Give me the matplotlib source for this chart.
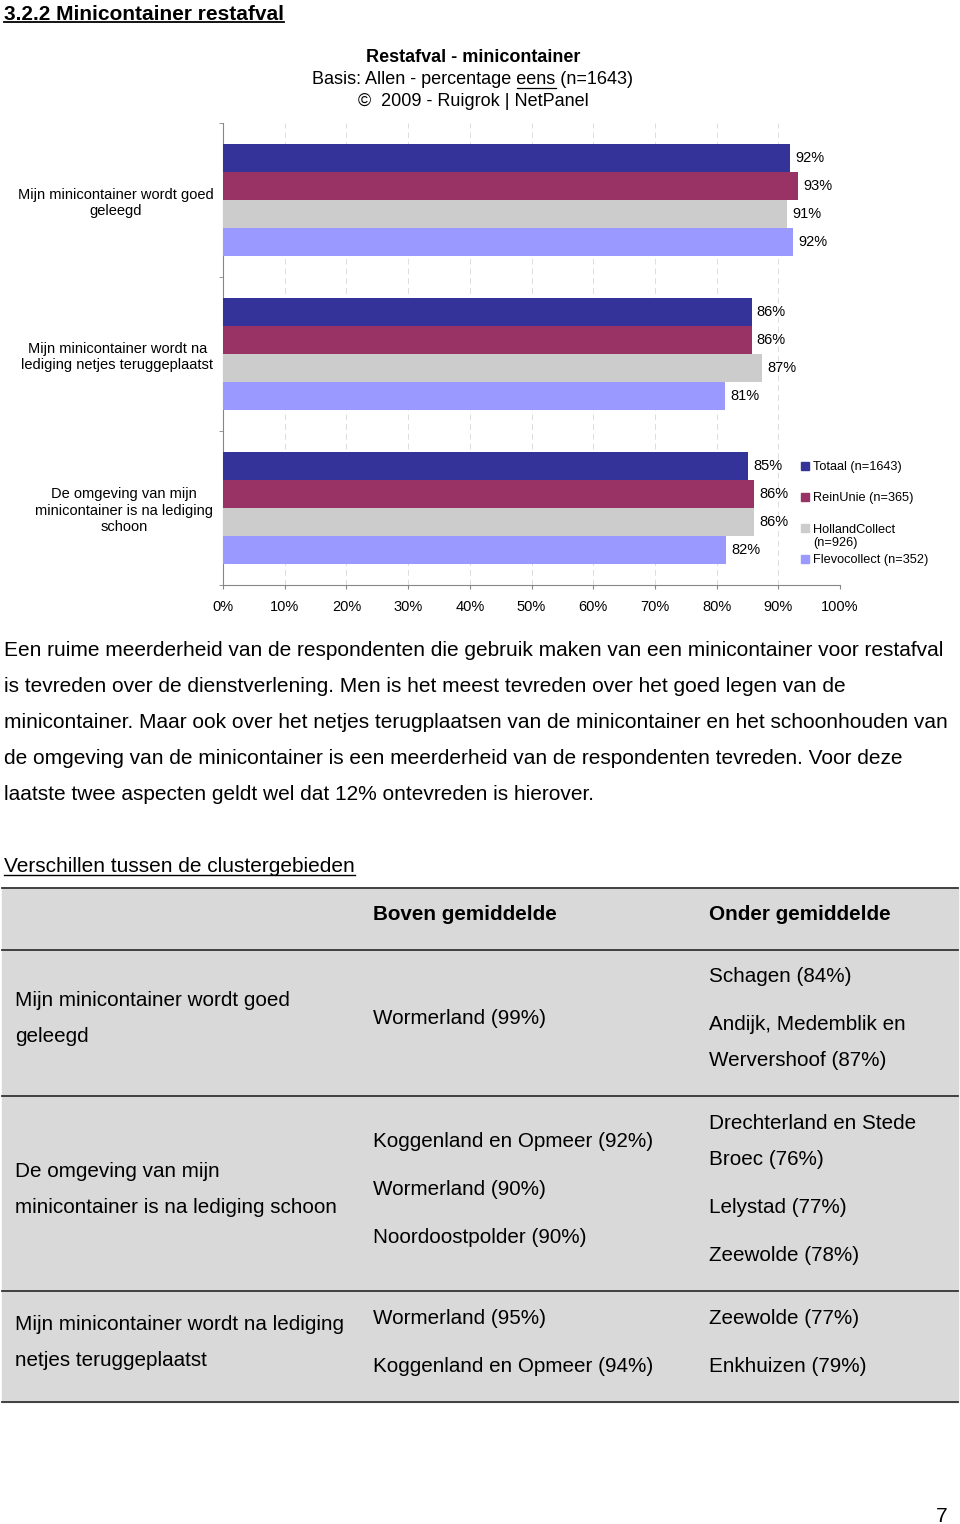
import matplotlib
matplotlib.use("Agg")
import matplotlib.pyplot as plt
import numpy as np
from matplotlib.patches import Rectangle

plt.rcParams['font.family'] = ['Liberation Sans', 'DejaVu Sans']

W, H = 960, 1524
DY = 2  # matplotlib centers on the full text box, nudge down a bit

# chart data
categories = [
    "Mijn minicontainer wordt goed\ngeleegd",
    "Mijn minicontainer wordt na\nlediging netjes teruggeplaatst",
    "De omgeving van mijn\nminicontainer is na lediging\nschoon",
]
series = ["Totaal (n=1643)", "ReinUnie (n=365)", "HollandCollect\n(n=926)", "Flevocollect (n=352)"]
colors = ["#333399", "#993366", "#CCCCCC", "#9999FF"]
totaal = [91.9, 85.7, 85.1]
reinunie = [93.2, 85.7, 86.1]
hollandcollect = [91.4, 87.4, 86.1]
flevocollect = [92.4, 81.4, 81.6]
xticks = list(range(0, 101, 10))

chart_title = "Restafval - minicontainer"
chart_sub = "Basis: Allen - percentage eens (n=1643)"
chart_copy = "\u00a9  2009 - Ruigrok | NetPanel"

heading = "3.2.2 Minicontainer restafval"
body_lines = [
    "Een ruime meerderheid van de respondenten die gebruik maken van een minicontainer voor restafval",
    "is tevreden over de dienstverlening. Men is het meest tevreden over het goed legen van de",
    "minicontainer. Maar ook over het netjes terugplaatsen van de minicontainer en het schoonhouden van",
    "de omgeving van de minicontainer is een meerderheid van de respondenten tevreden. Voor deze",
    "laatste twee aspecten geldt wel dat 12% ontevreden is hierover.",
]
section = "Verschillen tussen de clustergebieden"

# table: each cell is a list of paragraphs, each paragraph a list of lines
table_header = ["", "Boven gemiddelde", "Onder gemiddelde"]
table_rows = [
    [[["Mijn minicontainer wordt goed", "geleegd"]],
     [["Wormerland (99%)"]],
     [["Schagen (84%)"], ["Andijk, Medemblik en", "Wervershoof (87%)"]]],
    [[["De omgeving van mijn", "minicontainer is na lediging schoon"]],
     [["Koggenland en Opmeer (92%)"], ["Wormerland (90%)"], ["Noordoostpolder (90%)"]],
     [["Drechterland en Stede", "Broec (76%)"], ["Lelystad (77%)"], ["Zeewolde (78%)"]]],
    [[["Mijn minicontainer wordt na lediging", "netjes teruggeplaatst"]],
     [["Wormerland (95%)"], ["Koggenland en Opmeer (94%)"]],
     [["Zeewolde (77%)"], ["Enkhuizen (79%)"]]],
]
page_number = "7"

fig = plt.figure(figsize=(W / 100, H / 100), dpi=100)
fig.patch.set_facecolor("white")

# page overlay in pixel coordinates
page = fig.add_axes([0, 0, 1, 1])
page.set_xlim(0, W)
page.set_ylim(H, 0)
page.axis("off")

t_head = page.text(4, 12 + DY, heading, fontsize=15, fontweight="bold", va="center", ha="left")

page.text(473, 56 + DY, chart_title, fontsize=13, fontweight="bold", ha="center", va="center")
t_sub = page.text(473, 78 + DY, chart_sub, fontsize=13, ha="center", va="center")
page.text(473, 100 + DY, chart_copy, fontsize=13, ha="center", va="center")

# bar chart
ax = fig.add_axes([223 / W, 1 - 585 / H, 617 / W, 462 / H])
values = [totaal, reinunie, hollandcollect, flevocollect]
bh = 0.182
ypos = np.arange(len(categories))
for i, (vals, col) in enumerate(zip(values, colors)):
    bars = ax.barh(ypos + (i - 1.5) * bh, vals, height=bh, color=col, zorder=3)
    ax.bar_label(bars, labels=[f"{round(v)}%" for v in vals], padding=3.6, fontsize=10.5)

ax.set_xlim(0, 100)
ax.set_ylim(len(categories) - 0.5, -0.5)
ax.set_xticks(xticks)
ax.set_xticklabels([f"{x}%" for x in xticks], fontsize=10.5)
ax.set_yticks(ypos)
ax.set_yticklabels(categories, fontsize=10.5, multialignment="center")
ax.set_yticks(np.arange(len(categories) + 1) - 0.5, minor=True)
ax.tick_params(axis="y", which="major", length=0, pad=7)
ax.tick_params(axis="y", which="minor", length=3, color="#868686", direction="out")
ax.tick_params(axis="x", length=3, color="#868686", direction="out", pad=8)
ax.grid(axis="x", color="#DDDDDD", linestyle=(0, (6, 4)), linewidth=0.7, zorder=0)
for s in ["top", "right"]:
    ax.spines[s].set_visible(False)
for s in ["left", "bottom"]:
    ax.spines[s].set_color("#868686")
    ax.spines[s].set_linewidth(0.8)
ax.set_facecolor("none")

# legend drawn by hand
leg_marker_y = [466, 497, 528, 559]
leg_text_y = [466, 497, 535.5, 559]
for name, col, my, ty in zip(series, colors, leg_marker_y, leg_text_y):
    page.add_patch(Rectangle((801, my - 4), 8, 8, color=col))
    page.text(813, ty + 1, name, fontsize=9.2, va="center", ha="left", linespacing=1.05)

# body text
for k, line in enumerate(body_lines):
    page.text(4, 648 + 36 * k + DY, line, fontsize=15, va="center", ha="left")

t_sec = page.text(4, 864 + DY, section, fontsize=15, va="center", ha="left")

# table
row_edges = [888, 950, 1096, 1291, 1402]
col_x = [15, 373, 709]
page.add_patch(Rectangle((2, row_edges[0]), 956, row_edges[-1] - row_edges[0],
                         color="#D9D9D9", zorder=0))
for y in row_edges:
    page.plot([2, 958], [y, y], color="#333333", linewidth=1.3)

hc = (row_edges[0] + row_edges[1]) / 2 - 6 + DY
for x, txt in zip(col_x, table_header):
    page.text(x, hc, txt, fontsize=14.9, fontweight="bold", va="center", ha="left")

for r, row in enumerate(table_rows):
    center = (row_edges[r + 1] + row_edges[r + 2]) / 2 - 6 + DY
    for x, cell in zip(col_x, row):
        offs = []
        cur = 0
        for p, para in enumerate(cell):
            if p > 0:
                cur += 48
            for l, line in enumerate(para):
                if l > 0:
                    cur += 36
                offs.append((cur, line))
        total = offs[-1][0]
        for off, line in offs:
            page.text(x, center - total / 2 + off, line, fontsize=14.9, va="center", ha="left")

page.text(942, 1514 + DY, page_number, fontsize=15, va="center", ha="center")

# underlines
fig.canvas.draw()
rend = fig.canvas.get_renderer()


def xspan(t):
    bb = t.get_window_extent(rend)
    return bb.x0, bb.x1


x0, x1 = xspan(t_head)
page.plot([x0, x1], [22, 22], color="black", linewidth=1.3)
x0, x1 = xspan(t_sec)
page.plot([x0, x1], [875, 875], color="black", linewidth=1.0)

# underline the word "eens" in the subtitle
tmp_a = page.text(0, 0, "Basis: Allen - percentage eens", fontsize=13)
tmp_b = page.text(0, 0, "eens", fontsize=13)
wa = tmp_a.get_window_extent(rend).width
wb = tmp_b.get_window_extent(rend).width
tmp_a.remove()
tmp_b.remove()
sx0, _ = xspan(t_sub)
page.plot([sx0 + wa - wb, sx0 + wa], [88, 88], color="black", linewidth=0.9)

fig.savefig("out.png", dpi=100)
